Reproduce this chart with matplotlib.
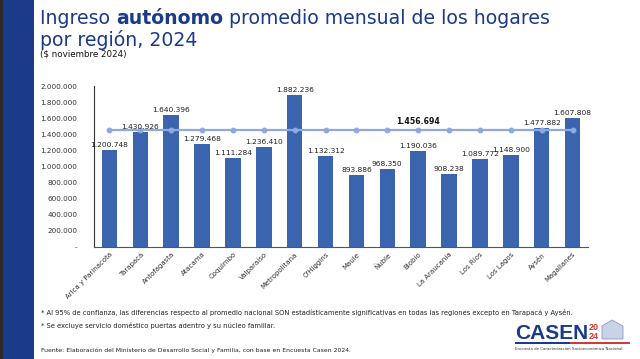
import matplotlib
matplotlib.use("Agg")
import matplotlib.pyplot as plt
from matplotlib.patches import Rectangle, Polygon
import numpy as np

regions = ["Arica y Parinacota", "Tarapacá", "Antofagasta", "Atacama", "Coquimbo",
           "Valparaíso", "Metropolitana", "O'Higgins", "Maule", "Ñuble", "Biobío",
           "La Araucanía", "Los Ríos", "Los Lagos", "Aysén", "Magallanes"]
ingreso = [1200748, 1430926, 1640396, 1279468, 1111284, 1236410, 1882236, 1132312,
           893886, 968350, 1190036, 908238, 1089772, 1148900, 1477882, 1607808]
promedio_nacional = 1456694
yticks = [0, 200000, 400000, 600000, 800000, 1000000, 1200000, 1400000,
          1600000, 1800000, 2000000]

def fmt(v):
    return f"{v:,}".replace(",", ".")

W, H = 640, 359
fig = plt.figure(figsize=(W / 100, H / 100), dpi=100)
fig.patch.set_facecolor("white")

def fx(x):
    return x / W

def fy(y):
    return 1 - y / H

NAVY = "#1B3A8A"
BAR = "#3A64AE"
LINE = "#8DAADC"
RED = "#D23A3A"

# left band
fig.patches.append(Rectangle((0, 0), fx(34), 1, transform=fig.transFigure,
                             facecolor=NAVY, edgecolor="none", zorder=0))
fig.patches.append(Rectangle((0, 0), fx(3), 1, transform=fig.transFigure,
                             facecolor="#2b2b2b", edgecolor="none", zorder=1))

ax = fig.add_axes([fx(94), fy(247), fx(588) - fx(94), fy(86) - fy(247)])
x = np.arange(len(regions))
ax.bar(x, ingreso, width=0.5, color=BAR, zorder=2)
ax.plot(x, [promedio_nacional] * len(x), color=LINE, lw=1.6, marker="o",
        markersize=3.2, zorder=3)
for xi, v in zip(x, ingreso):
    ax.text(xi, v + 25000, fmt(v), ha="center", va="bottom", fontsize=5.4,
            color="#222222", zorder=4)
ax.text(10, promedio_nacional + 50000, fmt(promedio_nacional), ha="center",
        va="bottom", fontsize=5.6, fontweight="bold", color="#111111", zorder=4)

ax.set_xlim(-0.5, len(regions) - 0.5)
ax.set_ylim(0, 2000000)
ax.set_yticks(yticks)
ax.set_yticklabels(["-" if t == 0 else fmt(t) for t in yticks], fontsize=5.2,
                   color="#333333")
ax.set_xticks(x)
ax.set_xticklabels(regions, rotation=45, ha="right", rotation_mode="anchor",
                   fontsize=5.0, color="#333333")
for s in ["top", "right"]:
    ax.spines[s].set_visible(False)
ax.spines["left"].set_color("#333333")
ax.spines["bottom"].set_color("#555555")
ax.spines["left"].set_linewidth(0.8)
ax.spines["bottom"].set_linewidth(0.8)
ax.tick_params(axis="both", length=0, pad=3)
ax.tick_params(axis="y", pad=12)

# title with bold segment
fig.canvas.draw()
renderer = fig.canvas.get_renderer()
parts = [("Ingreso ", "normal"), ("autónomo", "bold"),
         (" promedio mensual de los hogares", "normal")]
xpos = fx(40)
for txt, wgt in parts:
    t = fig.text(xpos, fy(23.5), txt, fontsize=13.6, fontweight=wgt, color=NAVY,
                 ha="left", va="baseline")
    bb = t.get_window_extent(renderer)
    xpos += bb.width / W
fig.text(fx(40), fy(46), "por región, 2024", fontsize=13.6, color=NAVY,
         ha="left", va="baseline")
fig.text(fx(40), fy(57), "($ noviembre 2024)", fontsize=6.3, color="#111111",
         ha="left", va="baseline")

fig.text(fx(41), fy(315), "* Al 95% de confianza, las diferencias respecto al promedio nacional SON estadísticamente significativas en todas las regiones excepto en Tarapacá y Aysén.",
         fontsize=4.85, color="#222222", ha="left", va="baseline")
fig.text(fx(41), fy(328), "* Se excluye servicio doméstico puertas adentro y su núcleo familiar.",
         fontsize=4.85, color="#222222", ha="left", va="baseline")
fig.text(fx(41), fy(352), "Fuente: Elaboración del Ministerio de Desarrollo Social y Familia, con base en Encuesta Casen 2024.",
         fontsize=4.45, color="#222222", ha="left", va="baseline")

# logo
fig.text(fx(515), fy(339), "CASEN", fontsize=15, fontweight="bold", color=NAVY,
         family="Liberation Sans", ha="left", va="baseline")
fig.text(fx(594), fy(330), "20", fontsize=6.5, fontweight="bold", color=RED,
         family="Liberation Sans", ha="center", va="baseline")
fig.text(fx(594), fy(339), "24", fontsize=6.5, fontweight="bold", color=RED,
         family="Liberation Sans", ha="center", va="baseline")
fig.patches.append(Polygon([[fx(602), fy(339)], [fx(602), fy(326)], [fx(612), fy(320)],
                            [fx(623), fy(326)], [fx(623), fy(339)]], closed=True,
                           transform=fig.transFigure, facecolor="#C9D3E6",
                           edgecolor="#8A9BC0", lw=0.6))
fig.patches.append(Rectangle((fx(515), fy(344)), fx(570) - fx(515), 2 / H,
                             transform=fig.transFigure, facecolor=NAVY, edgecolor="none"))
fig.patches.append(Rectangle((fx(570), fy(344)), fx(630) - fx(570), 2 / H,
                             transform=fig.transFigure, facecolor=RED, edgecolor="none"))
fig.text(fx(515), fy(350), "Encuesta de Caracterización Socioeconómica Nacional",
         fontsize=2.8, color="#333333", ha="left", va="baseline")

fig.savefig("out.png", dpi=100)
